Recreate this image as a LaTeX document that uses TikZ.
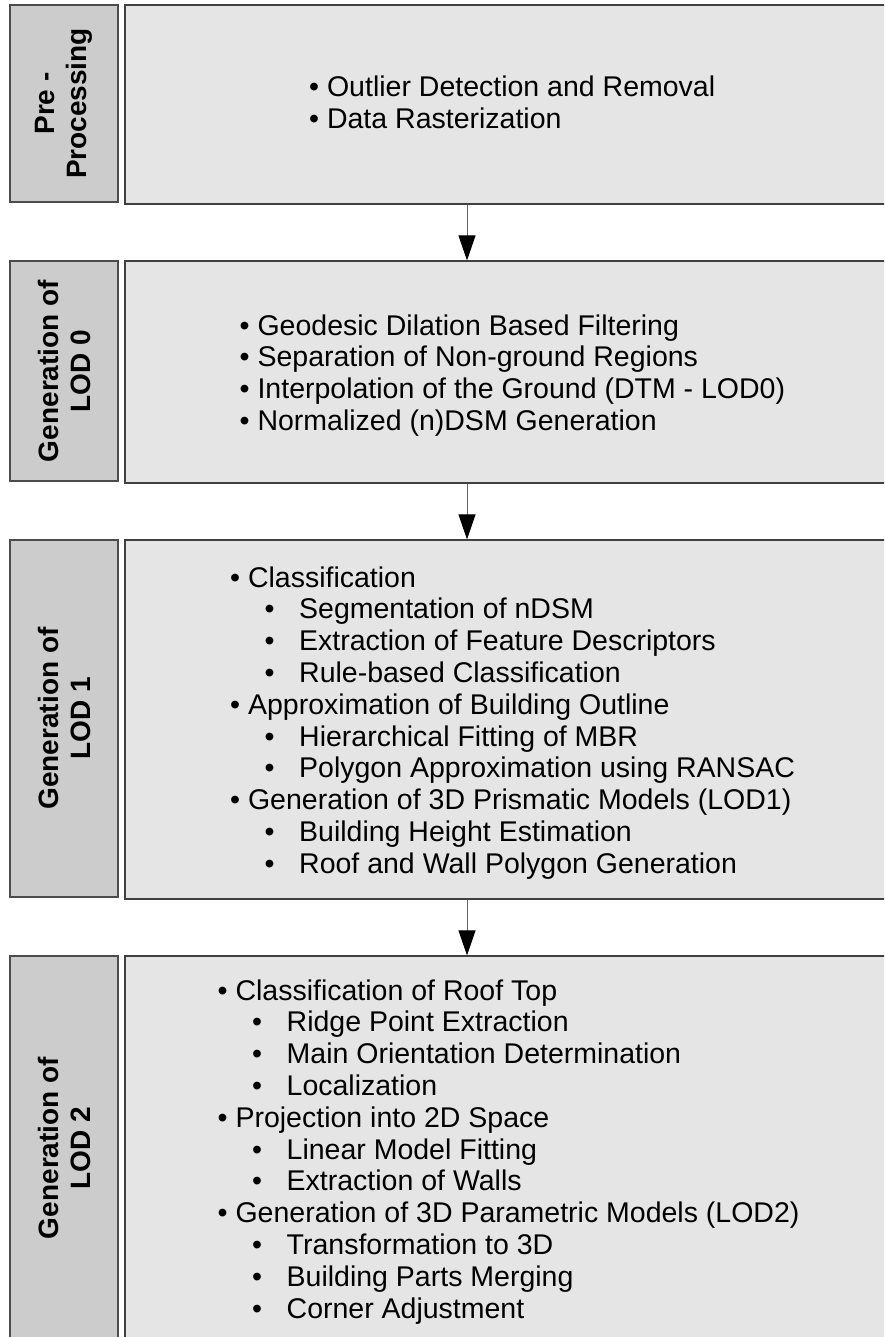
\documentclass[tikz,border=0pt]{standalone}
\usepackage{fontspec}
\setmainfont{Liberation Sans}
\usetikzlibrary{arrows.meta, positioning}

\newcommand{\mpt}[1]{\textbullet\ #1}
\newcommand{\spt}[1]{\makebox[69pt][l]{\hspace{34.5pt}\textbullet}#1}

\begin{document}
\begin{tikzpicture}[x=1pt, y=-1pt,
            > = {Triangle[length=25pt, width=17pt, color=black]},
  stage/.style = {draw=black!70, line width=1.2pt, fill=black!20, rotate=90,
                  minimum height=108pt, inner sep=0pt, align=center,
                  font=\bfseries\fontsize{28}{32}\selectfont},
   task/.style = {draw=black!75, line width=1.2pt, fill=black!10,
                  minimum width=765pt, inner sep=0pt},
  items/.style = {anchor=base west, inner sep=0pt, align=left,
                  font=\fontsize{28.5}{31.8}\selectfont},
   flow/.style = {draw=black!60, line width=1pt, ->}
                        ]
\useasboundingbox (0,0) rectangle (884,1337);
\clip (0,0) rectangle (884,1337);
% stage labels
    \node[stage, minimum width=197pt] (prel)  at (64,103.5) {Pre -\\Processing};
    \node[stage, minimum width=220pt] (lod0l) at (64,371)   {Generation of\\LOD 0};
    \node[stage, minimum width=357pt] (lod1l) at (64,718.5) {Generation of\\LOD 1};
    \node[stage, minimum width=384pt] (lod2l) at (64,1148)  {Generation of\\LOD 2};
% task boxes
    \node[task, minimum height=199pt] (pre)  at (507.5,104.5) {};
    \node[task, minimum height=222pt] (lod0) at (507.5,372)   {};
    \node[task, minimum height=359pt] (lod1) at (507.5,719.5) {};
    \node[task, minimum height=384pt] (lod2) at (507.5,1148)  {};
% task lists (placed by the baseline of the last line)
    \node[items] (pretxt) at (309,128.8) {\mpt{Outlier Detection and Removal}\\
        \mpt{Data Rasterization}};
    \node[items] (lod0txt) at (239.5,430.4) {\mpt{Geodesic Dilation Based Filtering}\\
        \mpt{Separation of Non-ground Regions}\\
        \mpt{Interpolation of the Ground (DTM - LOD0)}\\
        \mpt{Normalized (n)DSM Generation}};
    \node[items] (lod1txt) at (230,873.2) {\mpt{Classification}\\
        \spt{Segmentation of nDSM}\\
        \spt{Extraction of Feature Descriptors}\\
        \spt{Rule-based Classification}\\
        \mpt{Approximation of Building Outline}\\
        \spt{Hierarchical Fitting of MBR}\\
        \spt{Polygon Approximation using RANSAC}\\
        \mpt{Generation of 3D Prismatic Models (LOD1)}\\
        \spt{Building Height Estimation}\\
        \spt{Roof and Wall Polygon Generation}};
    \node[items] (lod2txt) at (217.5,1318) {\mpt{Classification of Roof Top}\\
        \spt{Ridge Point Extraction}\\
        \spt{Main Orientation Determination}\\
        \spt{Localization}\\
        \mpt{Projection into 2D Space}\\
        \spt{Linear Model Fitting}\\
        \spt{Extraction of Walls}\\
        \mpt{Generation of 3D Parametric Models (LOD2)}\\
        \spt{Transformation to 3D}\\
        \spt{Building Parts Merging}\\
        \spt{Corner Adjustment}};
% arrows
\coordinate (ax) at (467,0);
    \draw[flow] (pre.south -| ax)  -- (lod0.north -| ax);
    \draw[flow] (lod0.south -| ax) -- (lod1.north -| ax);
    \draw[flow] (lod1.south -| ax) -- (lod2.north -| ax);
\end{tikzpicture}
\end{document}
